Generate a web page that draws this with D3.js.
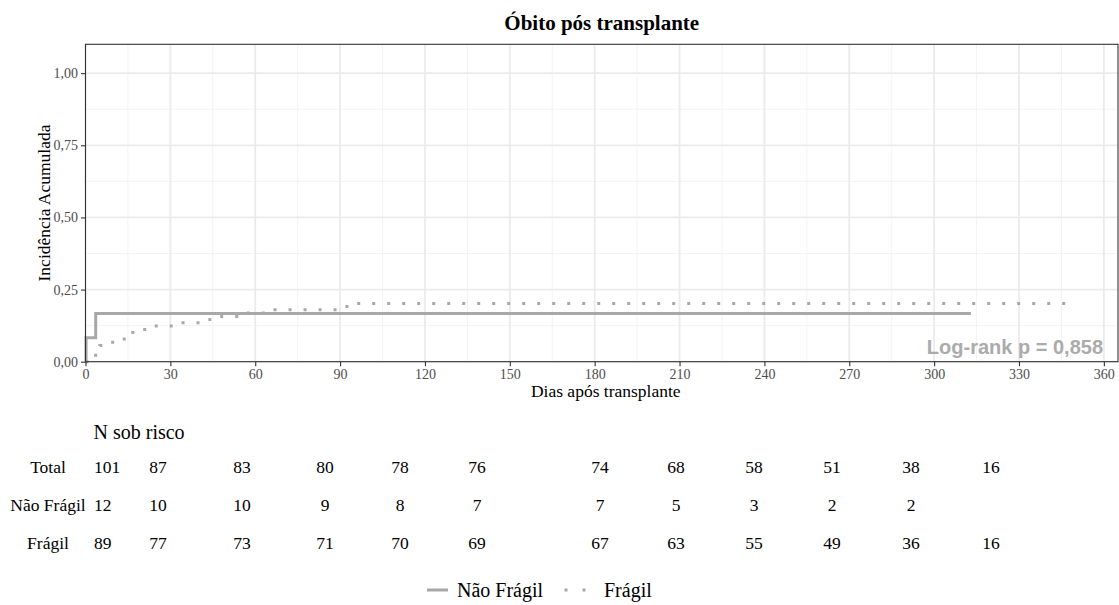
<!DOCTYPE html>
<html>
<head>
<meta charset="utf-8">
<script src="https://cdn.jsdelivr.net/npm/d3@7"></script>
<style>
  body { margin: 0; background: #fff; }
  text { font-family: "Liberation Serif", "DejaVu Serif", serif; }
</style>
</head>
<body>
<div id="chart"></div>
<script>
// cumulative incidence curves (step functions)
const naoFragilTimes = [0, 0.2, 3.6, 313];
const naoFragilValues = [0, 0.083, 0.167, 0.167];

const fragilTimes = [0, 2, 5, 8, 12, 16, 19, 24, 33, 43, 47, 56, 65, 91, 95, 349];
const fragilValues = [0, 0.022, 0.056, 0.067, 0.079, 0.101, 0.112, 0.124, 0.135, 0.146, 0.157, 0.169, 0.180, 0.191, 0.202, 0.202];

// numbers at risk
const riskTimes = [0, 30, 60, 90, 120, 150, 180, 210, 240, 270, 300, 330];
const riskTotal = [101, 87, 83, 80, 78, 76, 74, 68, 58, 51, 38, 16];
const riskNaoFragil = [12, 10, 10, 9, 8, 7, 7, 5, 3, 2, 2, null];
const riskFragil = [89, 77, 73, 71, 70, 69, 67, 63, 55, 49, 36, 16];
const riskLabels = ["Total", "Não Frágil", "Frágil"];

const xTicks = [0, 30, 60, 90, 120, 150, 180, 210, 240, 270, 300, 330, 360];
const yTicks = [0, 0.25, 0.5, 0.75, 1];

const width = 1119, height = 605;
const margin = {top: 44.3, right: 1, bottom: 243.3, left: 85.5};
const curveColor = "#a8a8a8";
// column centres of the risk table (the table is laid out on its own, not on the x axis)
const riskColX = [104, 158, 242, 325, 400, 477, 600, 676, 754, 832, 911, 991];

const svg = d3.select("#chart").append("svg")
  .attr("width", width)
  .attr("height", height);

const x = d3.scaleLinear()
  .domain([0, 365])
  .range([margin.left, width - margin.right]);

const y = d3.scaleLinear()
  .domain([0, 1.1])
  .range([height - margin.bottom, margin.top]);

const fmt = v => d3.format(".2f")(v).replace(".", ",");

// grid (minor then major)
const grid = svg.append("g");
const xMinor = d3.range(15, 365, 30);
const yMinor = [0.125, 0.375, 0.625, 0.875];
grid.selectAll(".xminor").data(xMinor).enter().append("line")
  .attr("x1", d => x(d)).attr("x2", d => x(d))
  .attr("y1", y.range()[0]).attr("y2", y.range()[1])
  .attr("stroke", "#f3f3f3").attr("stroke-width", 1);
grid.selectAll(".yminor").data(yMinor).enter().append("line")
  .attr("y1", d => y(d)).attr("y2", d => y(d))
  .attr("x1", x.range()[0]).attr("x2", x.range()[1])
  .attr("stroke", "#f3f3f3").attr("stroke-width", 1);
grid.selectAll(".xmajor").data(xTicks).enter().append("line")
  .attr("x1", d => x(d)).attr("x2", d => x(d))
  .attr("y1", y.range()[0]).attr("y2", y.range()[1])
  .attr("stroke", "#ebebeb").attr("stroke-width", 1.8);
grid.selectAll(".ymajor").data(yTicks).enter().append("line")
  .attr("y1", d => y(d)).attr("y2", d => y(d))
  .attr("x1", x.range()[0]).attr("x2", x.range()[1])
  .attr("stroke", "#ebebeb").attr("stroke-width", 1.8);

// curves
const stepLine = d3.line()
  .x(d => x(d[0]))
  .y(d => y(d[1]))
  .curve(d3.curveStepAfter);

svg.append("path")
  .datum(fragilTimes.map((t, i) => [t, fragilValues[i]]))
  .attr("d", stepLine)
  .attr("fill", "none")
  .attr("stroke", curveColor)
  .attr("stroke-width", 3)
  .attr("stroke-dasharray", "3,12");

svg.append("path")
  .datum(naoFragilTimes.map((t, i) => [t, naoFragilValues[i]]))
  .attr("d", stepLine)
  .attr("fill", "none")
  .attr("stroke", curveColor)
  .attr("stroke-width", 3);

// panel border
svg.append("rect")
  .attr("x", x.range()[0]).attr("y", y.range()[1])
  .attr("width", x.range()[1] - x.range()[0])
  .attr("height", y.range()[0] - y.range()[1])
  .attr("fill", "none")
  .attr("stroke", "#333")
  .attr("stroke-width", 1.1);

// axes
const xAxis = svg.append("g")
  .attr("transform", `translate(0,${y.range()[0]})`)
  .call(d3.axisBottom(x).tickValues(xTicks).tickSize(4.5).tickPadding(3));
const yAxis = svg.append("g")
  .attr("transform", `translate(${x.range()[0]},0)`)
  .call(d3.axisLeft(y).tickValues(yTicks).tickFormat(fmt).tickSize(4.5).tickPadding(3));
[xAxis, yAxis].forEach(a => {
  a.select(".domain").remove();
  a.selectAll(".tick line").attr("stroke", "#333").attr("stroke-width", 1.1);
  a.selectAll(".tick text")
    .attr("fill", "#4d4d4d")
    .style("font-family", "'Liberation Serif', serif")
    .style("font-size", "14px");
});

// titles
svg.append("text")
  .attr("x", (x.range()[0] + x.range()[1]) / 2)
  .attr("y", 30)
  .attr("text-anchor", "middle")
  .style("font-size", "21px")
  .style("font-weight", "bold")
  .text("Óbito pós transplante");

svg.append("text")
  .attr("x", (x.range()[0] + x.range()[1]) / 2 + 4)
  .attr("y", 397)
  .attr("text-anchor", "middle")
  .style("font-size", "17.5px")
  .text("Dias após transplante");

svg.append("text")
  .attr("transform", `translate(50,${(y.range()[0] + y.range()[1]) / 2}) rotate(-90)`)
  .attr("text-anchor", "middle")
  .style("font-size", "17.5px")
  .text("Incidência Acumulada");

// log-rank annotation
svg.append("text")
  .attr("x", 1103)
  .attr("y", 354)
  .attr("text-anchor", "end")
  .style("font-family", "'Liberation Sans', Arial, sans-serif")
  .style("font-weight", "bold")
  .style("font-size", "20px")
  .attr("fill", "#ababab")
  .text("Log-rank p = 0,858");

// risk table
svg.append("text")
  .attr("x", 93.5)
  .attr("y", 439)
  .style("font-size", "20px")
  .text("N sob risco");

const rows = [riskTotal, riskNaoFragil, riskFragil];
const rowY = d3.scalePoint().domain(riskLabels).range([473, 549]);
const colX = d3.scaleOrdinal().domain(riskTimes).range(riskColX);

riskLabels.forEach((lab, r) => {
  svg.append("text")
    .attr("x", 48)
    .attr("y", rowY(lab))
    .attr("text-anchor", "middle")
    .style("font-size", "17.5px")
    .text(lab);

  svg.append("g")
    .selectAll("text")
    .data(riskTimes.map((t, i) => ({t: t, v: rows[r][i]})).filter(d => d.v !== null))
    .enter().append("text")
    .attr("x", d => d.t === 0 ? 94 : colX(d.t))
    .attr("y", rowY(lab))
    .attr("text-anchor", d => d.t === 0 ? "start" : "middle")
    .style("font-size", "17.5px")
    .text(d => d.v);
});

// legend
const legend = svg.append("g").attr("transform", "translate(0,590)");
legend.append("line")
  .attr("x1", 427).attr("x2", 448)
  .attr("stroke", curveColor).attr("stroke-width", 3);
legend.append("text")
  .attr("x", 457).attr("y", 6.5)
  .style("font-size", "20px")
  .text("Não Frágil");
legend.append("line")
  .attr("x1", 564.5).attr("x2", 590)
  .attr("stroke", curveColor).attr("stroke-width", 3)
  .attr("stroke-dasharray", "3,15");
legend.append("text")
  .attr("x", 604).attr("y", 6.5)
  .style("font-size", "20px")
  .text("Frágil");
</script>
</body>
</html>
